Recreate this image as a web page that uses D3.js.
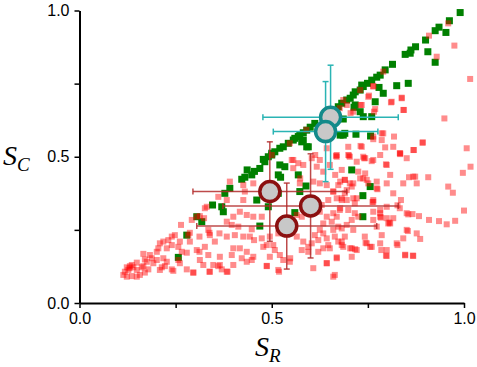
<!DOCTYPE html>
<html>
<head>
<meta charset="utf-8">
<script src="https://cdn.jsdelivr.net/npm/d3@7"></script>
<style>
  body { margin: 0; background: #fff; }
  svg { display: block; }
  .axis text { font-family: "Liberation Sans", Arial, sans-serif; font-size: 16px; fill: #000; }
  .axis path, .axis line { stroke: #000; }
  .lbl { font-family: "Liberation Serif", "Times New Roman", serif; font-style: italic; fill: #000; }
</style>
</head>
<body>
<div id="chart"></div>
<script>
// individual samples (S_R, S_C)
const greenPoints = [
  [0.99,0.993],[0.962,0.965],[0.935,0.943],[0.925,0.931],[0.953,0.925],[0.9,0.899],[0.874,0.876],[0.862,0.865],
  [0.86,0.854],[0.847,0.85],[0.906,0.859],[0.925,0.823],[0.814,0.816],[0.795,0.797],[0.782,0.779],[0.773,0.772],
  [0.76,0.762],[0.749,0.751],[0.738,0.74],[0.73,0.728],[0.717,0.722],[0.712,0.711],[0.704,0.7],[0.695,0.694],
  [0.682,0.683],[0.673,0.671],[0.779,0.737],[0.79,0.717],[0.825,0.743],[0.855,0.751],[0.769,0.688],[0.714,0.669],
  [0.738,0.637],[0.76,0.637],[0.686,0.629],[0.678,0.574],[0.69,0.58],[0.719,0.577],[0.757,0.571],[0.734,0.745],
  [0.612,0.614],[0.6,0.601],[0.582,0.582],[0.569,0.569],[0.556,0.557],[0.543,0.546],[0.521,0.529],[0.508,0.517],
  [0.491,0.5],[0.478,0.491],[0.595,0.534],[0.582,0.557],[0.73,0.654],[0.717,0.677],[0.591,0.591],[0.573,0.574],
  [0.56,0.563],[0.53,0.534],[0.5,0.512],[0.591,0.534],[0.578,0.551],[0.686,0.574],[0.448,0.438],[0.469,0.46],
  [0.482,0.483],[0.5,0.506],[0.521,0.472],[0.534,0.466],[0.517,0.438],[0.523,0.43],[0.569,0.438],[0.589,0.4],
  [0.573,0.381],[0.56,0.309],[0.469,0.263],[0.491,0.329],[0.461,0.352],[0.517,0.375],[0.708,0.455],[0.756,0.398],
  [0.737,0.367],[0.737,0.295],[0.378,0.375],[0.391,0.392],[0.37,0.329],[0.374,0.312],[0.346,0.335],[0.305,0.295],
  [0.318,0.278],[0.279,0.232],[0.257,0.156],[0.422,0.423],[0.436,0.455],[0.455,0.45],[0.43,0.43]
];

const redPoints = [
  // lower left tail
  [0.361,0.363],[0.331,0.329],[0.326,0.324],[0.313,0.297],[0.324,0.29],[0.292,0.284],[0.264,0.267],[0.335,0.25],
  [0.338,0.24],[0.283,0.232],[0.287,0.24],[0.312,0.227],[0.339,0.232],[0.364,0.238],[0.248,0.232],[0.24,0.227],
  [0.231,0.215],[0.218,0.21],[0.209,0.204],[0.24,0.198],[0.261,0.21],[0.287,0.21],[0.227,0.187],[0.205,0.187],
  [0.201,0.175],[0.257,0.192],[0.266,0.175],[0.279,0.172],[0.305,0.181],[0.312,0.175],[0.326,0.192],[0.335,0.164],
  [0.313,0.147],[0.322,0.13],[0.348,0.13],[0.361,0.126],[0.339,0.107],[0.296,0.104],[0.279,0.115],[0.257,0.147],
  [0.261,0.136],[0.227,0.141],[0.218,0.153],[0.201,0.147],[0.188,0.153],[0.183,0.164],[0.166,0.168],[0.17,0.149],
  [0.175,0.141],[0.192,0.136],[0.214,0.122],[0.209,0.113],[0.222,0.126],[0.24,0.115],[0.179,0.115],[0.166,0.126],
  [0.149,0.138],[0.14,0.122],[0.131,0.126],[0.123,0.122],[0.127,0.113],[0.118,0.107],[0.114,0.096],[0.123,0.09],
  [0.136,0.092],[0.149,0.09],[0.157,0.096],[0.17,0.104],[0.149,0.113],[0.162,0.122],[0.365,0.158],[0.37,0.115],
  [0.13,0.119],[0.136,0.13],[0.305,0.295],[0.352,0.21],[0.244,0.11],[0.296,0.104],[0.338,0.107],[0.385,0.107],
  [0.365,0.13],
  // middle cloud
  [0.383,0.278],[0.396,0.267],[0.413,0.261],[0.448,0.252],[0.383,0.227],[0.404,0.232],[0.426,0.227],[0.443,0.227],
  [0.454,0.215],[0.474,0.221],[0.487,0.198],[0.435,0.175],[0.417,0.187],[0.4,0.187],[0.396,0.164],[0.422,0.153],
  [0.435,0.141],[0.448,0.147],[0.452,0.158],[0.4,0.13],[0.383,0.107],[0.478,0.192],[0.495,0.158],[0.508,0.181],
  [0.521,0.164],[0.53,0.147],[0.548,0.153],[0.517,0.113],[0.487,0.126],[0.504,0.198],[0.495,0.227],[0.517,0.238],
  [0.548,0.238],[0.565,0.227],[0.582,0.21],[0.578,0.181],[0.595,0.192],[0.595,0.175],[0.604,0.204],[0.612,0.232],
  [0.621,0.215],[0.625,0.25],[0.634,0.238],[0.643,0.221],[0.647,0.198],[0.651,0.187],[0.66,0.25],[0.664,0.227],
  [0.673,0.21],[0.682,0.198],[0.634,0.187],[0.621,0.175],[0.669,0.153],[0.643,0.136],[0.664,0.096],[0.608,0.119],
  [0.634,0.272],[0.656,0.278],[0.669,0.295],[0.677,0.318],[0.66,0.307],[0.643,0.295],[0.625,0.312],[0.63,0.335],
  [0.647,0.352],[0.669,0.358],[0.682,0.352],[0.66,0.381],[0.673,0.403],[0.625,0.409],[0.608,0.415],[0.573,0.409],
  [0.578,0.295],[0.417,0.312],[0.435,0.301],[0.4,0.295],[0.452,0.295],[0.474,0.295],[0.383,0.352],[0.426,0.352],
  [0.43,0.381],[0.452,0.409],[0.565,0.301],[0.673,0.261],[0.487,0.127],[0.519,0.107],[0.547,0.141],[0.643,0.136],
  [0.669,0.156],[0.708,0.158],[0.799,0.161],[0.847,0.163],[0.868,0.161],
  // upper middle
  [0.552,0.489],[0.569,0.478],[0.556,0.461],[0.582,0.472],[0.604,0.495],[0.617,0.466],[0.625,0.489],[0.634,0.449],
  [0.651,0.472],[0.669,0.5],[0.665,0.438],[0.682,0.455],[0.69,0.421],[0.703,0.5],[0.721,0.483],[0.73,0.426],
  [0.743,0.443],[0.751,0.409],[0.764,0.489],[0.782,0.506],[0.799,0.472],[0.808,0.438],[0.833,0.512],[0.851,0.495],
  [0.868,0.432],[0.877,0.409],[0.842,0.409],[0.773,0.415],[0.712,0.409],[0.574,0.426],[0.426,0.403],[0.391,0.415],
  [0.69,0.375],[0.721,0.358],[0.66,0.381],[0.643,0.403],[0.816,0.375],[0.764,0.352],[0.799,0.329],[0.833,0.324],
  [0.782,0.307],[0.816,0.29],[0.851,0.307],[0.773,0.261],[0.808,0.272],[0.851,0.25],[0.842,0.221],[0.877,0.238],
  [0.825,0.204],[0.799,0.181],[0.756,0.192],[0.66,0.09],
  // right part
  [0.678,0.415],[0.69,0.421],[0.703,0.409],[0.695,0.386],[0.708,0.398],[0.682,0.358],[0.695,0.352],[0.712,0.358],
  [0.716,0.341],[0.678,0.324],[0.699,0.318],[0.716,0.307],[0.725,0.295],[0.708,0.284],[0.695,0.267],[0.682,0.255],
  [0.712,0.25],[0.69,0.227],[0.682,0.21],[0.686,0.192],[0.708,0.187],[0.721,0.181],[0.742,0.227],[0.747,0.204],
  [0.76,0.192],[0.782,0.204],[0.764,0.284],[0.782,0.295],[0.764,0.312],[0.799,0.29],[0.803,0.272],[0.786,0.232],
  [0.764,0.346],[0.773,0.392],[0.747,0.421],[0.738,0.426],[0.725,0.449],[0.799,0.409],
  [1.007,0.529],[1.017,0.466],[0.997,0.445],[0.959,0.398],[0.971,0.377],[1.0,0.316],[0.977,0.281],[0.955,0.269],
  [0.935,0.28],[0.909,0.284],[0.883,0.297],[0.866,0.304],[0.855,0.303],[0.886,0.219],[0.854,0.246],[0.867,0.162],
  [0.847,0.165],[0.827,0.198],[0.797,0.162],[0.785,0.181],[0.836,0.352],[0.827,0.334],[0.857,0.43],[0.873,0.432],
  [0.907,0.43],[0.797,0.474],[0.76,0.485],[0.74,0.495],[0.701,0.504],[0.731,0.537],[0.795,0.532],[0.834,0.509],
  [0.87,0.523],[0.892,0.548],[0.775,0.389],[0.762,0.345],[0.784,0.292],[0.806,0.275],[0.782,0.318],[0.744,0.206],
  [0.717,0.184],[0.704,0.187],
  // near the diagonal
  [0.79,0.791],[0.764,0.74],[0.73,0.728],[0.734,0.677],[0.751,0.705],[0.766,0.654],[0.812,0.688],[0.838,0.7],
  [0.842,0.66],[0.79,0.58],[0.786,0.557],[0.816,0.534],[0.734,0.534],[0.764,0.569],[0.699,0.534],[0.669,0.506],
  [0.643,0.529],[0.613,0.506],[0.556,0.489],[0.868,0.523],[0.834,0.512],[0.743,0.495],[0.695,0.677],[0.712,0.654],
  [0.677,0.666],[0.547,0.546],[0.59,0.592],[0.5,0.506],[0.686,0.694],
  [1.016,0.766],[0.975,0.88],[0.929,0.842],[0.959,0.956],[0.909,0.914],[0.838,0.702],[0.844,0.66],[0.81,0.686],
  [0.949,0.631],[0.893,0.549],[0.818,0.569],[0.786,0.58],[0.769,0.663],[0.753,0.709],[0.764,0.742],[0.731,0.677],
  [0.705,0.649],[0.764,0.56],[0.738,0.5],[0.667,0.503],[0.699,0.506]
];

// group means with standard deviations
const redMeanSR = [0.495, 0.601, 0.539];
const redMeanSC = [0.381, 0.332, 0.263];
const redErrSR = [0.2, 0.228, 0.234];
const redErrSC = [0.17, 0.178, 0.147];

const tealMeanSR = [0.653, 0.640];
const tealMeanSC = [0.635, 0.586];
const tealErrSR = [0.176, 0.136];
const tealErrSC = [0.178, 0.171];

const xTicks = [0, 0.25, 0.5, 0.75, 1];
const yTicks = [0, 0.25, 0.5, 0.75, 1];
const tickLabels = {0: "0.0", 0.5: "0.5", 1: "1.0"};

const W = 477, H = 367;
const svg = d3.select("#chart").append("svg").attr("width", W).attr("height", H);

const x = d3.scaleLinear().domain([0, 1]).range([79.5, 464]);
const y = d3.scaleLinear().domain([0, 1]).range([303, 10.5]);

// green squares first, red drawn over them
const gs = 7, rs = 6;
svg.append("g").selectAll("rect").data(greenPoints).join("rect")
  .attr("x", d => x(d[0]) - gs/2).attr("y", d => y(d[1]) - gs/2)
  .attr("width", gs).attr("height", gs)
  .attr("fill", "#008000");

svg.append("g").selectAll("rect").data(redPoints).join("rect")
  .attr("x", d => x(d[0]) - rs/2).attr("y", d => y(d[1]) - rs/2)
  .attr("width", rs).attr("height", rs)
  .attr("fill", "#ff0000").attr("fill-opacity", 0.45);

function errBars(sr, sc, esr, esc, color, op) {
  const g = svg.append("g").attr("stroke", color).attr("stroke-width", 1.5).attr("stroke-opacity", op);
  const cap = 3;
  sr.forEach((v, i) => {
    const cx = x(v), cy = y(sc[i]);
    const x0 = x(v - esr[i]), x1 = x(v + esr[i]);
    const y0 = y(sc[i] - esc[i]), y1 = y(sc[i] + esc[i]);
    g.append("line").attr("x1", x0).attr("x2", x1).attr("y1", cy).attr("y2", cy);
    g.append("line").attr("x1", cx).attr("x2", cx).attr("y1", y0).attr("y2", y1);
    [x0, x1].forEach(xx => g.append("line").attr("x1", xx).attr("x2", xx).attr("y1", cy - cap).attr("y2", cy + cap));
    [y0, y1].forEach(yy => g.append("line").attr("x1", cx - cap).attr("x2", cx + cap).attr("y1", yy).attr("y2", yy));
  });
}
errBars(redMeanSR, redMeanSC, redErrSR, redErrSC, "#b22a2a", 0.85);
errBars(tealMeanSR, tealMeanSC, tealErrSR, tealErrSC, "#2ab4b4", 1);

function circles(sr, sc, stroke) {
  svg.append("g").selectAll("circle").data(sr).join("circle")
    .attr("cx", d => x(d)).attr("cy", (d, i) => y(sc[i]))
    .attr("r", 10)
    .attr("fill", "#c8c8c8").attr("stroke", stroke).attr("stroke-width", 3.5);
}
circles(redMeanSR, redMeanSC, "#8b1010");
circles(tealMeanSR, tealMeanSC, "#138a8a");

// axes
const xAxis = svg.append("g").attr("class", "axis").attr("transform", "translate(0,303)")
  .call(d3.axisBottom(x).tickValues(xTicks).tickSizeInner(5).tickSizeOuter(0).tickPadding(5)
    .tickFormat(d => tickLabels[d] || ""));
const yAxis = svg.append("g").attr("class", "axis").attr("transform", "translate(79.5,0)")
  .call(d3.axisLeft(y).tickValues(yTicks).tickSizeInner(5).tickSizeOuter(0).tickPadding(5)
    .tickFormat(d => tickLabels[d] || ""));
svg.selectAll(".axis .domain").attr("stroke-width", 2);
svg.selectAll(".axis .tick line").attr("stroke-width", 1.5);
svg.selectAll(".axis text").attr("font-family", null).attr("font-size", null);

// axis titles
const yl = svg.append("text").attr("class", "lbl").attr("x", 3).attr("y", 165).attr("font-size", 28).text("S");
yl.append("tspan").attr("font-size", 19).attr("dy", 6).text("C");
const xl = svg.append("text").attr("class", "lbl").attr("x", 255).attr("y", 356).attr("font-size", 28).text("S");
xl.append("tspan").attr("font-size", 19).attr("dy", 6).text("R");
</script>
</body>
</html>
